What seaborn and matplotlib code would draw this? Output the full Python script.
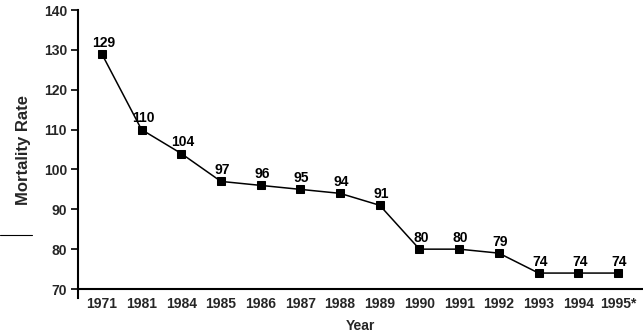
import matplotlib
matplotlib.use("Agg")
import matplotlib.pyplot as plt
import seaborn as sns
import pandas as pd

years = ["1971", "1981", "1984", "1985", "1986", "1987", "1988", "1989",
         "1990", "1991", "1992", "1993", "1994", "1995*"]
rates = [129, 110, 104, 97, 96, 95, 94, 91, 80, 80, 79, 74, 74, 74]
y_ticks = [70, 80, 90, 100, 110, 120, 130, 140]

sns.set_theme(style="white")
plt.rcParams['font.family'] = ['Liberation Sans', 'DejaVu Sans']

df = pd.DataFrame({"Year": years, "Rate": rates, "pos": range(len(years))})

fig = plt.figure(figsize=(6.43, 3.34), dpi=100)
ax = fig.add_axes([0.1213, 0.1347, 0.8787, 0.8353])

sns.lineplot(data=df, x="pos", y="Rate", ax=ax, color="black", linewidth=1.1,
             marker="s", markersize=6.3, markeredgecolor="black",
             markerfacecolor="black", legend=False)

for i, v in enumerate(rates):
    ax.annotate(str(v), (i, v), xytext=(1, 3), textcoords="offset points",
                ha="center", va="bottom", fontsize=10, fontweight="bold",
                color="black")

ax.set_ylim(70, 140)
ax.set_xlim(-0.6, len(years) - 0.37)
ax.set_yticks(y_ticks)
ax.set_yticklabels([str(t) for t in y_ticks], fontsize=10, fontweight="bold")
ax.set_xticks(range(len(years)))
ax.set_xticklabels(years, fontsize=10, fontweight="bold")
ax.tick_params(axis="y", length=5, width=1.2, color="black", pad=3, left=True)
ax.tick_params(axis="x", length=0, pad=6)

for s in ["top", "right"]:
    ax.spines[s].set_visible(False)
ax.spines["left"].set_color("black")
ax.spines["bottom"].set_color("black")
ax.spines["left"].set_linewidth(1.5)
ax.spines["bottom"].set_linewidth(1.5)
ax.spines["left"].set_bounds(67.8, 140)

ax.set_ylabel("Mortality Rate", fontsize=12, fontweight="bold", labelpad=9)
ax.set_xlabel("")
fig.text(0.56, 0.004, "Year", ha="center", va="bottom", fontsize=10,
         fontweight="bold")
fig.add_artist(plt.Line2D([0.0, 0.05], [0.297, 0.297], color="black",
                          linewidth=0.8, transform=fig.transFigure))

fig.savefig("out.png", dpi=100)
